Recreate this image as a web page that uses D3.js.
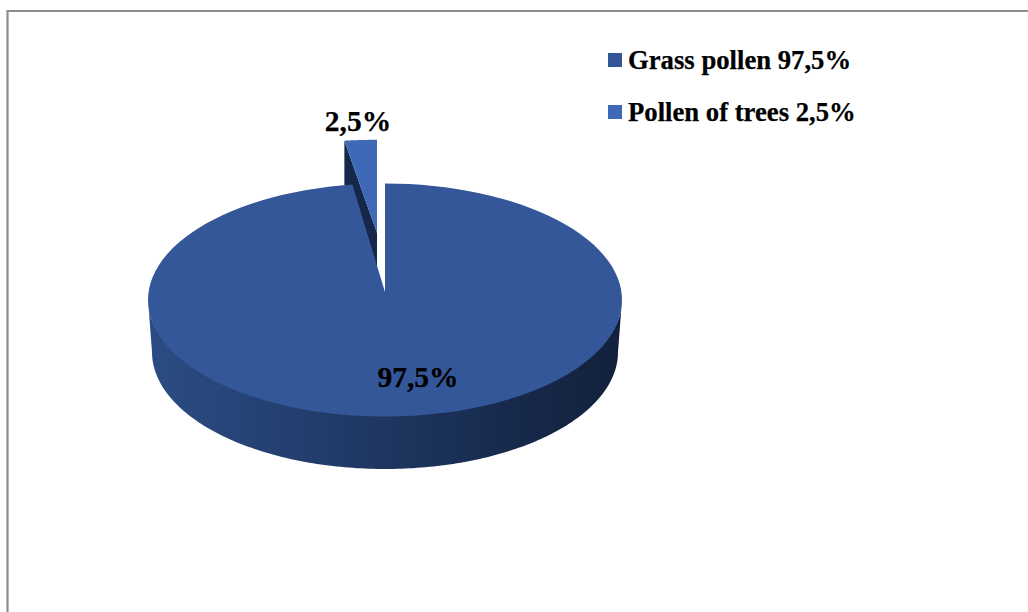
<!DOCTYPE html>
<html>
<head>
<meta charset="utf-8">
<script src="https://cdn.jsdelivr.net/npm/d3@7"></script>
<style>
  html, body { margin: 0; padding: 0; background: #fff; overflow: hidden; }
  text { font-family: "Liberation Serif", serif; font-weight: bold; fill: #000; stroke: #000; stroke-width: 0.25px; }
</style>
</head>
<body>
<script>
const categories = ["Grass pollen", "Pollen of trees"];
const shares = [97.5, 2.5];
const shareLabels = ["97,5%", "2,5%"];
const legendLabels = ["Grass pollen 97,5%", "Pollen of trees 2,5%"];
const topColors = ["#34579a", "#3d69b7"];

const width = 1028, height = 612;
const cx = 385, cy = 300, rx = 237, ry = 116.5;
const wallRx = 233, wallCy = 352, wallRy = 117;
const apexY = 292; // perspective pulls the pie's apex above the ellipse centre
const seamSqueeze = 0.88; // back edge is foreshortened, so the wedge looks narrower

const svg = d3.select("body").append("svg")
    .attr("width", width)
    .attr("height", height)
    .style("display", "block");

// frame, only top and left show in the crop
svg.append("path")
    .attr("d", d3.line()([[7.5, height], [7.5, 11], [width, 11]]))
    .attr("fill", "none")
    .attr("stroke", "#8e8e8e")
    .attr("stroke-width", 2.2);

const defs = svg.append("defs");
const wallGrad = defs.append("linearGradient")
    .attr("id", "wall")
    .attr("gradientUnits", "userSpaceOnUse")
    .attr("x1", cx - rx).attr("x2", cx + rx)
    .attr("y1", 0).attr("y2", 0);
[[0, "#2b4c83"], [0.35, "#223d6c"], [0.6, "#1b3158"], [1, "#12203b"]].forEach(s => {
    wallGrad.append("stop").attr("offset", s[0]).attr("stop-color", s[1]);
});

// pie goes clockwise from 12 o'clock, grass first, so trees end up just left of the top
const pie = d3.pie().sort(null).value(d => d);
const arcs = pie(shares);
const tau = 2 * Math.PI;
const seam = tau - (tau - arcs[1].startAngle) * seamSqueeze;

function ptTop(a, r = ry) { return [cx + rx * Math.sin(a), cy - r * Math.cos(a)]; }

// outer wall of the big slice, top edge tucked under the top face
const wallLine = [];
d3.range(90, 270.5, 1).forEach(deg => {
    wallLine.push(ptTop(deg * Math.PI / 180, ry * 0.97));
});
d3.range(270, 89.5, -1).forEach(deg => {
    const a = deg * Math.PI / 180;
    wallLine.push([cx + wallRx * Math.sin(a), wallCy - wallRy * Math.cos(a)]);
});
svg.append("path")
    .attr("d", d3.line()(wallLine) + "Z")
    .attr("fill", "url(#wall)");

function sliceTop(a0, a1, apex) {
    const steps = d3.range(0, 1.0001, 1 / 120).map(t => ptTop(a0 + (a1 - a0) * t));
    return d3.line()([[cx, apex], ...steps]) + "Z";
}

// small slice sits behind the big one: cut face first, then its top
const smallG = svg.append("g").attr("transform", "translate(-8,-7) scale(1,0.8)");
const leftEdge = ptTop(seam);
smallG.append("path")
    .attr("d", d3.line()([[cx, cy], leftEdge, [leftEdge[0], leftEdge[1] + 65], [cx, cy + 65]]) + "Z")
    .attr("fill", "#15274a");
smallG.append("path")
    .attr("d", sliceTop(seam, tau, cy))
    .attr("fill", topColors[1]);

svg.append("path")
    .attr("d", sliceTop(0, seam, apexY))
    .attr("fill", topColors[0]);

// value labels
svg.append("text")
    .attr("x", 418).attr("y", 387)
    .attr("text-anchor", "middle")
    .style("font-size", "29.5px")
    .text(shareLabels[0]);
svg.append("text")
    .attr("x", 358).attr("y", 131)
    .attr("text-anchor", "middle")
    .style("font-size", "29.5px")
    .text(shareLabels[1]);

// legend
const legendY = d3.scalePoint().domain(categories).range([60, 112]);
const legend = svg.selectAll("g.legend")
    .data(categories)
    .join("g")
    .attr("class", "legend")
    .attr("transform", d => `translate(608,${legendY(d)})`);
legend.append("rect")
    .attr("y", -7).attr("width", 14).attr("height", 14)
    .attr("fill", (d, i) => topColors[i]);
legend.append("text")
    .attr("x", 20).attr("y", 8.5)
    .style("font-size", "26.7px")
    .text((d, i) => legendLabels[i]);
</script>
</body>
</html>
